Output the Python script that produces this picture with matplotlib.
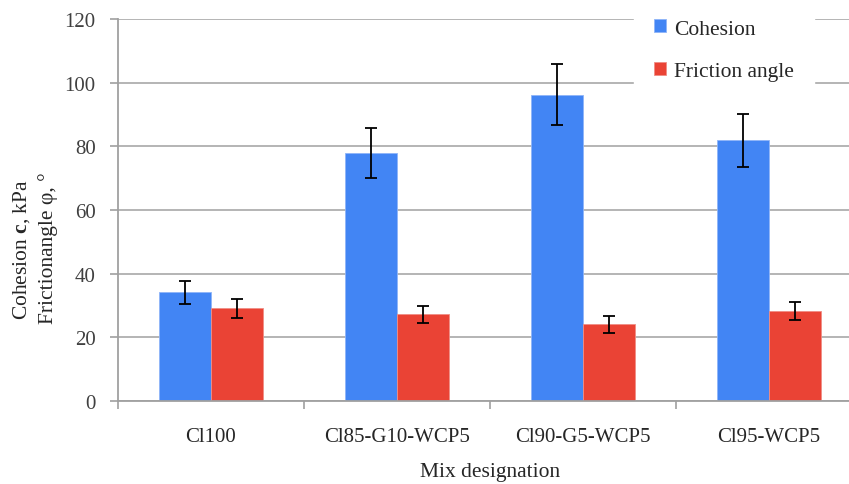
import matplotlib.pyplot as plt
import numpy as np

plt.rcParams['font.family'] = ['Liberation Serif', 'DejaVu Serif']
plt.rcParams['mathtext.fontset'] = 'custom'
plt.rcParams['mathtext.rm'] = 'Liberation Serif'
plt.rcParams['mathtext.bf'] = 'Liberation Serif:bold'

mixes = ['Cl100', 'Cl85-G10-WCP5', 'Cl90-G5-WCP5', 'Cl95-WCP5']
cohesion = [34.1, 77.9, 96.2, 81.9]
cohesion_err = [3.5, 7.8, 9.6, 8.3]
friction = [29.1, 27.2, 24.1, 28.2]
friction_err = [3.0, 2.7, 2.6, 2.8]

blue = '#4285f4'
red = '#ea4335'
text_col = '#262626'

fig = plt.figure(figsize=(8.49, 4.85), dpi=100)
ax = fig.add_axes([118/849, 1 - 402/485, 744/849, 382/485])

x = np.arange(len(mixes))
w = 0.282

ax.bar(x - w/2, cohesion, w, color=blue, edgecolor='#8fb5f8', linewidth=0.6,
       label='Cohesion', zorder=2)
ax.bar(x + w/2, friction, w, color=red, edgecolor='#f08e85', linewidth=0.6,
       label='Friction angle', zorder=2)
ax.errorbar(x - w/2, cohesion, yerr=cohesion_err, fmt='none', ecolor='black',
            elinewidth=1.3, capsize=4.5, capthick=1.3, zorder=3)
ax.errorbar(x + w/2, friction, yerr=friction_err, fmt='none', ecolor='black',
            elinewidth=1.3, capsize=4.5, capthick=1.3, zorder=3)

ax.set_xlim(-0.5, 3.5)
ax.set_ylim(0, 120)
ax.set_yticks(np.arange(0, 121, 20))
ax.yaxis.grid(True, color='#b4b4b4', linewidth=1.4, zorder=0)
ax.set_axisbelow(True)

# category labels in the middle, tick marks on the group boundaries
ax.set_xticks(x)
ax.set_xticklabels(mixes)
ax.set_xticks(np.arange(-0.5, 4.0, 1.0), minor=True)
ax.tick_params(axis='x', which='major', length=0, pad=19, labelsize=15,
               labelcolor=text_col)
ax.tick_params(axis='x', which='minor', length=6, width=1.2, color='#a0a0a0')
ax.tick_params(axis='y', length=6, width=1.2, color='#a0a0a0', pad=10,
               labelsize=15, labelcolor='#404040')

for side in ['top', 'right']:
    ax.spines[side].set_visible(False)
for side in ['left', 'bottom']:
    ax.spines[side].set_color('#a0a0a0')
    ax.spines[side].set_linewidth(1.3)

ax.set_xlabel('Mix designation', fontsize=15.5, color=text_col, labelpad=11)

fig.text(22/849, 1 - 250/485, r'Cohesion $\mathbf{c}$, kPa', rotation=90,
         ha='center', va='center', fontsize=15.5, color=text_col)
fig.text(48/849, 1 - 248/485, 'Frictionangle \u03c6, \u00b0', rotation=90,
         ha='center', va='center', fontsize=15.5, color=text_col)

leg = ax.legend(loc='upper left', bbox_to_anchor=(634/849, 1.0),
                bbox_transform=fig.transFigure, frameon=True, fancybox=False,
                framealpha=1, edgecolor='white', fontsize=15.5,
                handlelength=0.55, handleheight=0.55, handletextpad=0.35,
                labelspacing=1.1, borderpad=0.95, borderaxespad=0)
for t in leg.get_texts():
    t.set_color(text_col)

fig.savefig('out.png', dpi=100)
